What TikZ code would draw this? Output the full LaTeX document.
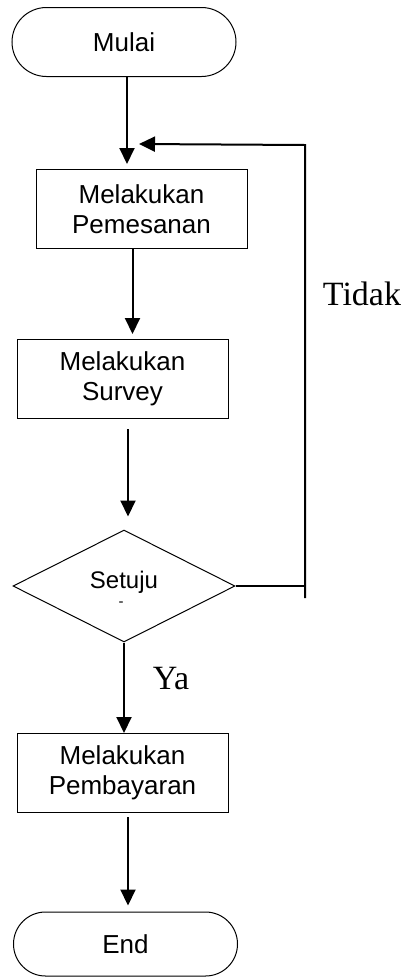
\documentclass[tikz,border=0pt]{standalone}
\usepackage{fontspec}
\newfontfamily\arial{Liberation Sans}
\newfontfamily\serifket{Liberation Serif}
\usetikzlibrary{arrows.meta,shapes.geometric,shapes.misc}

\begin{document}
\begin{tikzpicture}[x=1pt,y=-1pt]
		\tikzset{terminal/.style = {rounded rectangle,draw,line width=1pt,minimum width=224pt,inner sep=0pt,font=\arial\fontsize{26}{30}\selectfont}}
		\tikzset{proses/.style = {rectangle,draw,line width=1pt,minimum width=211pt,minimum height=79pt,inner sep=0pt,align=center,font=\arial\fontsize{26}{30}\selectfont}}
		\tikzset{keputusan/.style = {diamond,draw,line width=1pt,minimum width=222pt,minimum height=112pt,inner sep=0pt,text height=9pt,text depth=5pt,font=\arial\fontsize{24}{28}\selectfont}}
		\tikzset{panah/.style = {-{Triangle[length=16pt,width=15pt]},line width=2pt}}
		\tikzset{garis/.style = {line width=2pt}}
		\tikzset{ket/.style = {font=\serifket\fontsize{34}{38}\selectfont}}
		\useasboundingbox (0,0) rectangle (405,978);
		% langkah-langkah
		\node[terminal,minimum height=69pt] (mulai) at (124,42) {Mulai};
		\node[proses] (pesan) at (141.5,209) {Melakukan\\Pemesanan};
		\node[proses] (survey) at (122.5,379) {Melakukan\\Survey};
		\node[keputusan] (setuju) at (124,586) {Setuju};
		\node[font=\arial\fontsize{15}{15}\selectfont,inner sep=0pt,text height=4pt,text depth=0pt] (tanda) at (121,604) {-};
		\node[proses] (bayar) at (122.5,773) {Melakukan\\Pembayaran};
		\node[terminal,minimum height=64pt] (selesai) at (125.5,944) {End};
		% garis kembali
		\coordinate (ujungbawah) at (305,598);
		\coordinate (ujungatas) at (305,145);
		\node[ket] (tidak) at (362,294) {Tidak};
		\node[ket] (ya) at (171,679) {Ya};
		% panah
		\draw[panah] ([xshift=3pt]mulai.south) -- ([xshift=-14.5pt,yshift=5pt]pesan.north);
		\draw[panah] ([xshift=-9pt]pesan.south) -- ([xshift=10pt,yshift=5pt]survey.north);
		\draw[panah] ([xshift=5.5pt,yshift=-10pt]survey.south) -- ([xshift=4pt,yshift=13pt]setuju.north);
		\draw[panah] (setuju.south) -- ([xshift=1.5pt]bayar.north);
		\draw[panah] ([xshift=5.5pt,yshift=-4pt]bayar.south) -- ([xshift=2.5pt,yshift=6pt]selesai.north);
		\draw[garis] (setuju.east) -- (setuju.east -| ujungbawah);
		\draw[panah] (ujungbawah) -- (ujungatas) -- ([xshift=-2.5pt,yshift=25pt]pesan.north);
	\end{tikzpicture}
\end{document}
